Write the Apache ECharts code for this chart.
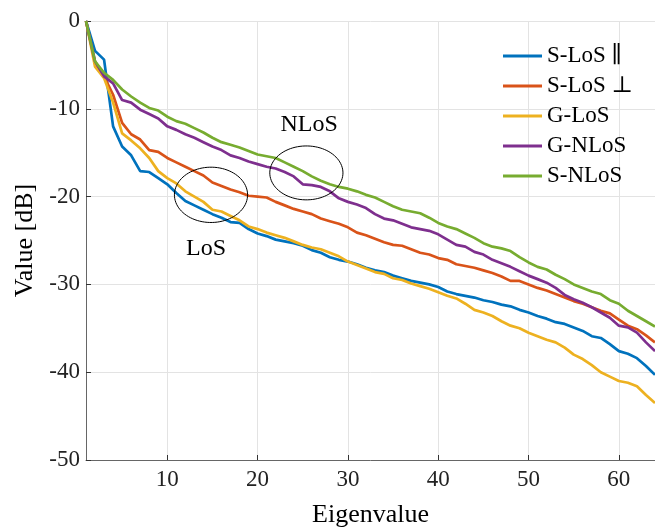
<!DOCTYPE html>
<html>
<head>
<meta charset="utf-8">
<script src="https://cdn.jsdelivr.net/npm/echarts@6/dist/echarts.min.js"></script>
<style>html,body{margin:0;padding:0;background:#fff;}#c{width:655px;height:527px;}</style>
</head>
<body>
<div id="c"></div>
<script>
const eigen = Array.from({length: 64}, (_, k) => k + 1);
const xTicks = [10, 20, 30, 40, 50, 60];
const yTicks = [0, -10, -20, -30, -40, -50];
const seriesNames = ['S-LoS \u2225', 'S-LoS \u22A5', 'G-LoS', 'G-NLoS', 'S-NLoS'];
const colors = ['#0072BD', '#D95319', '#EDB120', '#7E2F8E', '#77AC30'];

const sLosPar = [0,-3.4,-4.4,-12,-14.3,-15.3,-17.1,-17.2,-17.9,-18.6,
  -19.6,-20.5,-21.0,-21.5,-22.0,-22.4,-22.9,-23.0,-23.7,-24.2,
  -24.5,-24.9,-25.1,-25.3,-25.6,-26.1,-26.4,-26.9,-27.2,-27.4,
  -27.7,-28.1,-28.4,-28.6,-29.0,-29.3,-29.6,-29.8,-30.0,-30.3,
  -30.8,-31.1,-31.3,-31.5,-31.8,-32.0,-32.3,-32.5,-32.9,-33.2,
  -33.6,-33.9,-34.3,-34.5,-34.9,-35.3,-35.9,-36.1,-36.8,-37.6,
  -37.9,-38.4,-39.3,-40.3];
const sLosPerp = [0,-4.8,-6.3,-8.4,-11.6,-12.9,-13.5,-14.7,-14.9,-15.6,
  -16.1,-16.6,-17.1,-17.6,-18.4,-18.8,-19.2,-19.5,-19.9,-20.0,
  -20.1,-20.6,-21.0,-21.4,-21.7,-22.0,-22.5,-22.8,-23.1,-23.5,
  -24.1,-24.4,-24.8,-25.2,-25.5,-25.6,-26.0,-26.4,-26.6,-27.0,
  -27.2,-27.7,-27.9,-28.1,-28.4,-28.7,-29.1,-29.6,-29.6,-30.0,
  -30.4,-30.7,-31.1,-31.5,-31.9,-32.2,-32.6,-33.0,-33.3,-34.0,
  -34.7,-35.1,-35.8,-36.6];
const gLos = [0,-5.2,-6.5,-9.3,-12.8,-13.6,-14.5,-15.6,-17.1,-17.9,
  -18.5,-19.4,-20.0,-20.6,-21.5,-21.7,-22.2,-22.7,-23.4,-23.7,
  -24.1,-24.4,-24.7,-25.1,-25.5,-25.8,-26.0,-26.4,-26.8,-27.4,
  -27.8,-28.2,-28.6,-28.8,-29.3,-29.5,-29.9,-30.2,-30.5,-30.9,
  -31.3,-31.6,-32.2,-32.9,-33.2,-33.6,-34.2,-34.7,-35.0,-35.5,
  -35.9,-36.3,-36.6,-37.2,-38.0,-38.5,-39.2,-40.0,-40.5,-41.0,
  -41.2,-41.6,-42.6,-43.5];
const gNlos = [0,-4.6,-6.3,-7.1,-9.0,-9.3,-10.1,-10.6,-11.1,-12.0,
  -12.4,-12.9,-13.3,-13.8,-14.3,-14.7,-15.3,-15.6,-16.0,-16.3,
  -16.6,-16.8,-17.2,-17.7,-18.6,-18.7,-18.9,-19.4,-20.2,-20.6,
  -20.9,-21.3,-22.0,-22.5,-22.7,-23.1,-23.5,-23.7,-23.9,-24.3,
  -24.9,-25.5,-25.7,-26.3,-26.6,-27.2,-27.6,-28.0,-28.5,-29.0,
  -29.4,-29.8,-30.4,-31.2,-31.7,-32.1,-32.6,-33.2,-33.8,-34.7,
  -34.9,-35.5,-36.6,-37.6];
const sNlos = [0,-4.6,-5.9,-6.7,-7.8,-8.6,-9.3,-9.9,-10.2,-10.9,
  -11.4,-11.7,-12.2,-12.7,-13.3,-13.8,-14.1,-14.4,-14.8,-15.2,
  -15.4,-15.6,-16.1,-16.6,-17.1,-17.7,-18.2,-18.6,-18.9,-19.1,
  -19.4,-19.8,-20.1,-20.6,-21.1,-21.5,-21.7,-21.9,-22.4,-23.0,
  -23.4,-23.7,-24.2,-24.7,-25.3,-25.7,-25.9,-26.2,-26.9,-27.5,
  -28.0,-28.3,-28.9,-29.4,-30.0,-30.4,-30.8,-31.1,-31.8,-32.2,
  -33.0,-33.6,-34.2,-34.8];
const seriesValues = [sLosPar, sLosPerp, gLos, gNlos, sNlos];

// annotation ellipses: [centerX, centerY, radiusX, radiusY] in data units
const ellipseNames = ['LoS', 'NLoS'];
const ellipses = [[14.84, -19.8, 4.05, 3.15], [25.4, -17.3, 4.05, 3.07]];
// annotation labels: [x, y] in data units
const labelPos = [[14.3, -25.9], [25.7, -11.8]];

const FONT = '"Liberation Serif", "DejaVu Serif", serif';

const lineSeries = seriesNames.map((n, i) => ({
  name: n,
  type: 'line',
  data: eigen.map((x, k) => [x, seriesValues[i][k]]),
  symbol: 'none',
  lineStyle: {width: 2.7, color: colors[i]},
  itemStyle: {color: colors[i]},
  z: 3 + i,
  animation: false
}));

const ellipseSeries = {
  type: 'custom',
  name: 'ellipses',
  data: ellipses,
  encode: {x: 0, y: 1},
  silent: true,
  z: 10,
  renderItem: function (params, api) {
    const c = api.coord([api.value(0), api.value(1)]);
    const s = api.size([api.value(2), api.value(3)]);
    const pts = [];
    for (let k = 0; k <= 90; k++) {
      const t = k / 90 * Math.PI * 2;
      pts.push([c[0] + s[0] * Math.cos(t), c[1] + s[1] * Math.sin(t)]);
    }
    return {type: 'polyline', shape: {points: pts}, style: {stroke: '#000', lineWidth: 1, fill: null}};
  },
  animation: false
};

const textSeries = {
  type: 'custom',
  name: 'labels',
  data: labelPos.map((p, i) => [p[0], p[1], i]),
  encode: {x: 0, y: 1},
  silent: true,
  z: 11,
  renderItem: function (params, api) {
    const c = api.coord([api.value(0), api.value(1)]);
    return {type: 'text', x: c[0], y: c[1], style: {text: ellipseNames[api.value(2)], fill: '#000', font: '24px ' + FONT, align: 'center', verticalAlign: 'middle'}};
  },
  animation: false
};

const chart = echarts.init(document.getElementById('c'), null, {renderer: 'canvas'});
chart.setOption({
  animation: false,
  backgroundColor: '#fff',
  textStyle: {fontFamily: FONT},
  grid: {left: 86, right: 0, top: 21, bottom: 67, containLabel: false, outerBoundsMode: 'none'},
  legend: {
    data: seriesNames.map((n, i) => ({name: n, icon: 'rect', itemStyle: {color: colors[i]}})),
    orient: 'vertical',
    left: 503,
    top: 44,
    padding: 0,
    itemWidth: 39,
    itemHeight: 3,
    itemGap: 6,
    textStyle: {fontFamily: FONT, fontSize: 23, color: '#000', lineHeight: 24},
    selectedMode: false
  },
  xAxis: {
    type: 'value',
    min: 1,
    max: 64,
    name: 'Eigenvalue',
    nameLocation: 'middle',
    nameGap: 42,
    nameTextStyle: {fontFamily: FONT, fontSize: 26, color: '#000'},
    axisLine: {onZero: false, lineStyle: {color: '#666', width: 1}},
    axisTick: {inside: true, length: 5, customValues: xTicks, lineStyle: {color: '#333'}},
    axisLabel: {customValues: xTicks, fontFamily: FONT, fontSize: 23, color: '#222', margin: 8},
    splitLine: {show: true, lineStyle: {color: '#e3e3e3', width: 1}}
  },
  yAxis: {
    type: 'value',
    min: -50,
    max: 0,
    interval: 10,
    name: 'Value [dB]',
    nameLocation: 'middle',
    nameGap: 46,
    nameTextStyle: {fontFamily: FONT, fontSize: 26, color: '#000'},
    axisLine: {show: true, onZero: false, lineStyle: {color: '#666', width: 1}},
    axisTick: {show: true, inside: true, length: 5, lineStyle: {color: '#333'}},
    axisLabel: {fontFamily: FONT, fontSize: 23, color: '#222', margin: 6},
    splitLine: {show: true, lineStyle: {color: '#e3e3e3', width: 1}}
  },
  series: lineSeries.concat([ellipseSeries, textSeries])
});
</script>
</body>
</html>
